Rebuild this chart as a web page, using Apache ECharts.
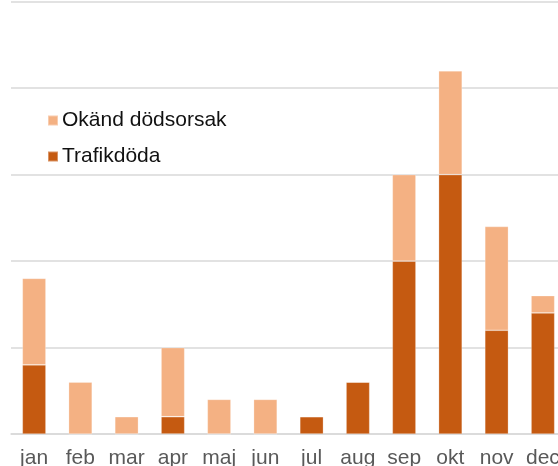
<!DOCTYPE html>
<html>
<head>
<meta charset="utf-8">
<script src="https://cdn.jsdelivr.net/npm/echarts@6/dist/echarts.min.js"></script>
<style>html,body{margin:0;padding:0;background:#fff;}#c{width:558px;height:466px;}</style>
</head>
<body>
<div id="c"></div>
<script>
const months = ['jan','feb','mar','apr','maj','jun','jul','aug','sep','okt','nov','dec'];
const trafikdoda = [4, 0, 0, 1, 0, 0, 1, 3, 10, 15, 6, 7];
const okand = [5, 3, 1, 4, 2, 2, 0, 0, 5, 6, 6, 1];
const seriesNames = ['Okänd dödsorsak', 'Trafikdöda'];

const chart = echarts.init(document.getElementById('c'), null, {renderer: 'canvas'});
const font = "'Liberation Sans', Arial, sans-serif";
chart.setOption({
  animation: false,
  backgroundColor: '#ffffff',
  grid: {left: 11, top: 1.7, width: 555, bottom: 32, containLabel: false, outerBoundsMode: 'none'},
  legend: {
    orient: 'vertical', left: 47, top: 110, padding: 0,
    itemWidth: 10, itemHeight: 10, itemGap: 15, icon: 'rect',
    data: seriesNames,
    textStyle: {fontFamily: font, fontSize: 21, color: '#111111', lineHeight: 20, padding: [0,0,0,-1]}
  },
  xAxis: {
    type: 'category', data: months,
    axisLine: {lineStyle: {color: '#d9d9d9', width: 1.5}},
    axisTick: {show: false},
    axisLabel: {interval: 0, hideOverlap: false, fontFamily: font, fontSize: 21, color: '#595959', margin: 14}
  },
  yAxis: {
    type: 'value', min: 0, max: 25, interval: 5,
    axisLabel: {show: false}, axisLine: {show: false}, axisTick: {show: false},
    splitLine: {lineStyle: {color: '#d9d9d9', width: 1.5}}
  },
  series: [
    {name: 'Trafikdöda', type: 'bar', stack: 'a', data: trafikdoda, barWidth: '51%',
     itemStyle: {color: '#c55a11', borderColor: 'rgba(255,255,255,0.35)', borderWidth: 0.7}},
    {name: 'Okänd dödsorsak', type: 'bar', stack: 'a', data: okand, barWidth: '51%',
     itemStyle: {color: '#f4b183', borderColor: 'rgba(255,255,255,0.35)', borderWidth: 0.7}}
  ]
});
</script>
</body>
</html>
